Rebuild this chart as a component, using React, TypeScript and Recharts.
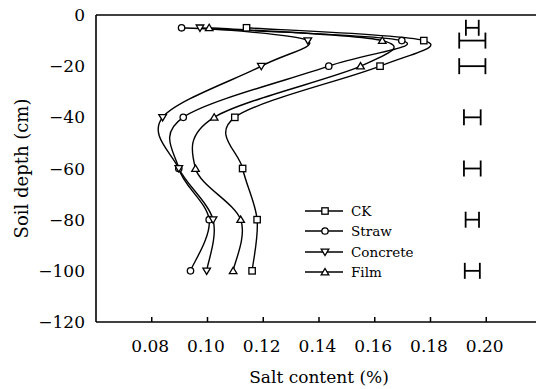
import {
  ComposedChart,
  ErrorBar,
  Legend,
  Line,
  ReferenceLine,
  Scatter,
  XAxis,
  YAxis,
} from "recharts";

const depths = [-5, -10, -20, -40, -60, -80, -100];
const ck = [0.114, 0.1776, 0.1619, 0.1098, 0.1126, 0.1178, 0.116];
const straw = [0.0907, 0.1697, 0.1435, 0.0913, 0.0897, 0.1006, 0.0939];
const concrete = [0.0973, 0.136, 0.1193, 0.0839, 0.0897, 0.102, 0.0997];
const film = [0.1006, 0.1627, 0.1549, 0.1024, 0.0957, 0.1119, 0.1092];

const errCenter = [0.195, 0.195, 0.195, 0.195, 0.195, 0.195, 0.195];
const errHalf = [0.0023, 0.0047, 0.0047, 0.003, 0.003, 0.0024, 0.0027];

const xTicks = [0.08, 0.1, 0.12, 0.14, 0.16, 0.18, 0.2];
const yTicks = [0, -20, -40, -60, -80, -100, -120];

const FONT = "'DejaVu Serif', 'Liberation Serif', serif";

const toRows = (vals: number[]) => vals.map((x, i) => ({ x, y: depths[i] }));

const series = [
  { name: "CK", shape: "square", data: toRows(ck) },
  { name: "Straw", shape: "circle", data: toRows(straw) },
  { name: "Concrete", shape: "down", data: toRows(concrete) },
  { name: "Film", shape: "up", data: toRows(film) },
];

const errData = errCenter.map((x, i) => ({ x, y: depths[i], e: errHalf[i] }));

// catmull-rom style smoothing, close to the spreadsheet "smoothed line"
const smoothCurve = (context: any) => {
  let pts: number[][] = [];
  return {
    areaStart() {},
    areaEnd() {},
    lineStart() {
      pts = [];
    },
    point(x: number, y: number) {
      pts.push([+x, +y]);
    },
    lineEnd() {
      const n = pts.length;
      if (!n) return;
      context.moveTo(pts[0][0], pts[0][1]);
      for (let i = 0; i < n - 1; i++) {
        const p0 = pts[Math.max(i - 1, 0)];
        const p1 = pts[i];
        const p2 = pts[i + 1];
        const p3 = pts[Math.min(i + 2, n - 1)];
        context.bezierCurveTo(
          p1[0] + (p2[0] - p0[0]) / 6,
          p1[1] + (p2[1] - p0[1]) / 6,
          p2[0] - (p3[0] - p1[0]) / 6,
          p2[1] - (p3[1] - p1[1]) / 6,
          p2[0],
          p2[1]
        );
      }
    },
  };
};

const Marker = ({ shape, cx, cy }: { shape: string; cx: number; cy: number }) => {
  const p = { fill: "#fff", stroke: "#000", strokeWidth: 1.3 };
  if (shape === "square") return <rect x={cx - 3.2} y={cy - 3.2} width={6.4} height={6.4} {...p} />;
  if (shape === "circle") return <circle cx={cx} cy={cy} r={3.2} {...p} />;
  if (shape === "down")
    return <polygon points={`${cx - 3.8},${cy - 2.8} ${cx + 3.8},${cy - 2.8} ${cx},${cy + 3.6}`} {...p} />;
  return <polygon points={`${cx - 3.8},${cy + 2.8} ${cx + 3.8},${cy + 2.8} ${cx},${cy - 3.6}`} {...p} />;
};

const makeDot = (shape: string) => (props: any) => (
  <Marker key={props.key ?? `${shape}-${props.index}`} shape={shape} cx={props.cx} cy={props.cy} />
);

const XTick = ({ x, y, payload }: any) => (
  <g>
    <line x1={x} y1={y} x2={x} y2={y - 5} stroke="#000" strokeWidth={1.5} />
    <text x={x - 1.5} y={y + 30} textAnchor="middle" fontFamily={FONT} fontSize={17} fill="#000">
      {payload.value.toFixed(2)}
    </text>
  </g>
);

const LegendBox = () => (
  <div style={{ fontFamily: FONT, fontSize: 13.5, color: "#000" }}>
    {series.map((s) => (
      <div key={s.name} style={{ display: "flex", alignItems: "center", height: 20.3 }}>
        <svg width={46} height={12} style={{ display: "block" }}>
          <line x1={0} y1={6} x2={38} y2={6} stroke="#000" strokeWidth={1.5} />
          <Marker shape={s.shape} cx={20} cy={6} />
        </svg>
        <span style={{ lineHeight: "20px" }}>{s.name}</span>
      </div>
    ))}
  </div>
);

export default function App() {
  return (
    <div
      style={{
        position: "absolute",
        left: 0,
        top: 0,
        width: 536,
        height: 389,
        overflow: "hidden",
        background: "#fff",
      }}
    >
      <ComposedChart width={542} height={389} margin={{ top: 15, right: 0, bottom: 0, left: 0 }}>
        <XAxis
          type="number"
          dataKey="x"
          domain={[0.06, 0.22]}
          ticks={xTicks}
          interval={0}
          height={67}
          tickSize={0}
          tickMargin={0}
          tickLine={false}
          tick={<XTick />}
          axisLine={{ stroke: "#000", strokeWidth: 1.6 }}
          label={{
            value: "Salt content (%)",
            position: "insideBottom",
            offset: 6,
            fontFamily: FONT,
            fontSize: 17,
            fill: "#000",
          }}
        />
        <YAxis
          type="number"
          dataKey="y"
          domain={[-120, 0]}
          ticks={yTicks}
          interval={0}
          width={96}
          tickSize={0}
          tickMargin={11}
          tickLine={false}
          axisLine={{ stroke: "#000", strokeWidth: 1.6 }}
          tick={{ fontFamily: FONT, fontSize: 17, fill: "#000" }}
          tickFormatter={(v: number) => (v === 0 ? "0" : `\u2212${Math.abs(v)}`)}
          label={{
            value: "Soil depth (cm)",
            angle: -90,
            position: "insideLeft",
            offset: 22,
            fontFamily: FONT,
            fontSize: 18,
            fill: "#000",
            style: { textAnchor: "middle" },
          }}
        />
        <ReferenceLine y={0} stroke="#000" strokeWidth={1.6} />
        {series.map((s) => (
          <Line
            key={s.name}
            data={s.data}
            dataKey="y"
            name={s.name}
            type={smoothCurve as any}
            stroke="#000"
            strokeWidth={1.4}
            dot={makeDot(s.shape)}
            activeDot={false}
            isAnimationActive={false}
          />
        ))}
        <Scatter data={errData} dataKey="y" shape={() => <g />} isAnimationActive={false}>
          <ErrorBar dataKey="e" direction="x" width={8} stroke="#000" strokeWidth={1.8} isAnimationActive={false} />
        </Scatter>
        <Legend
          layout="vertical"
          align="center"
          verticalAlign="middle"
          content={<LegendBox />}
          wrapperStyle={{ left: 305, top: 201, width: 140 }}
        />
      </ComposedChart>
    </div>
  );
}
